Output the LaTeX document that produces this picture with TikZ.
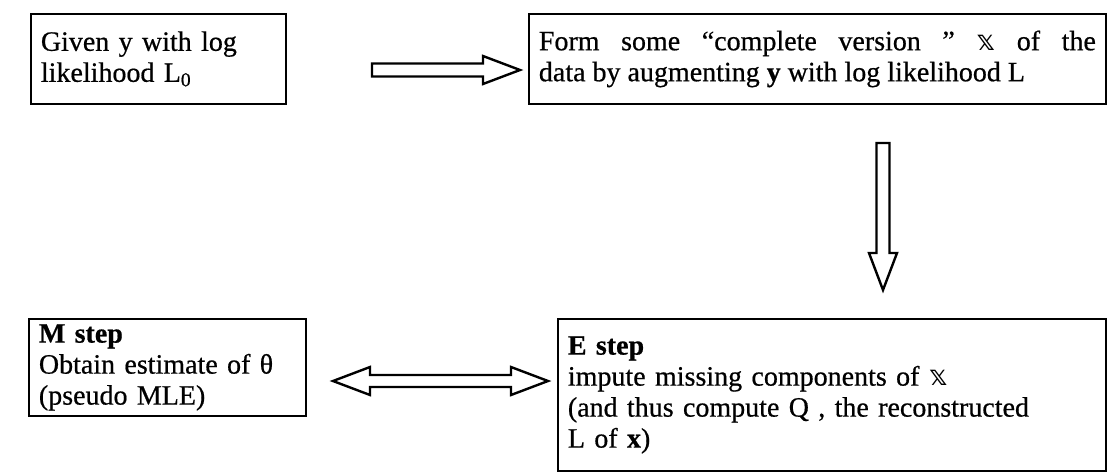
\documentclass[tikz,border=0pt]{standalone}
\usepackage{fontspec}
\setmainfont{Liberation Serif}[FakeBold=0.6]
\newfontfamily\dvs{DejaVu Sans}
\usetikzlibrary{calc}
\begin{document}
\begin{tikzpicture}[x=1pt,y=-1pt,
  box/.style={draw, line width=1.8pt, anchor=north west, align=left, inner xsep=10pt,
    font=\fontsize{28}{31}\selectfont},
  fat/.style={draw, line width=2.4pt, fill=white, line join=miter,
    to path={($(\tikztostart)!6.5pt!90:(\tikztotarget)$)
      -- ($($(\tikztotarget)!37pt!(\tikztostart)$)!6.5pt!-90:(\tikztostart)$)
      -- ($($(\tikztotarget)!37pt!(\tikztostart)$)!14pt!-90:(\tikztostart)$)
      -- (\tikztotarget)
      -- ($($(\tikztotarget)!37pt!(\tikztostart)$)!14pt!90:(\tikztostart)$)
      -- ($($(\tikztotarget)!37pt!(\tikztostart)$)!6.5pt!90:(\tikztostart)$)
      -- ($(\tikztostart)!6.5pt!-90:(\tikztotarget)$) -- cycle}},
  dfat/.style={draw, line width=2.4pt, fill=white, line join=miter,
    to path={
      -- ($($(\tikztostart)!37pt!(\tikztotarget)$)!14pt!90:(\tikztotarget)$)
      -- ($($(\tikztostart)!37pt!(\tikztotarget)$)!6pt!90:(\tikztotarget)$)
      -- ($($(\tikztotarget)!37pt!(\tikztostart)$)!6pt!-90:(\tikztostart)$)
      -- ($($(\tikztotarget)!37pt!(\tikztostart)$)!14pt!-90:(\tikztostart)$)
      -- (\tikztotarget)
      -- ($($(\tikztotarget)!37pt!(\tikztostart)$)!14pt!90:(\tikztostart)$)
      -- ($($(\tikztotarget)!37pt!(\tikztostart)$)!6pt!90:(\tikztostart)$)
      -- ($($(\tikztostart)!37pt!(\tikztotarget)$)!6pt!-90:(\tikztotarget)$)
      -- ($($(\tikztostart)!37pt!(\tikztotarget)$)!14pt!-90:(\tikztotarget)$)
      -- cycle}}
]
\useasboundingbox[fill=white] (0,0) rectangle (1113,472);

\node[box, minimum width=255, minimum height=90, text width=235] (given) at (30,13)
  {Given y with log\\likelihood L\textsubscript{0}};
\node[box, minimum width=577, minimum height=90, text width=557, align=justify] (form) at (528,13)
  {Form some “complete version ” {\dvs 𝕩} of the\linebreak data by augmenting \textbf{y} with log likelihood L};
\node[box, minimum width=277, minimum height=97, text width=257] (mstep) at (28,318)
  {\textbf{M step}\\Obtain estimate of θ\\(pseudo MLE)};
\node[box, minimum width=548, minimum height=152, text width=528] (estep) at (557,318)
  {\textbf{E step}\\impute missing components of {\dvs 𝕩}\\(and thus compute Q , the reconstructed\\L of \textbf{x})};

\coordinate (r1s) at (372,70);
\coordinate (r1t) at (520,70);
\coordinate (d1s) at (883,143);
\coordinate (d1t) at (883,290);
\coordinate (m1s) at (333,381);
\coordinate (m1t) at (548,381);

\draw[fat] (r1s) to (r1t);
\draw[fat] (d1s) to (d1t);
\draw[dfat] (m1s) to (m1t);
\end{tikzpicture}
\end{document}
